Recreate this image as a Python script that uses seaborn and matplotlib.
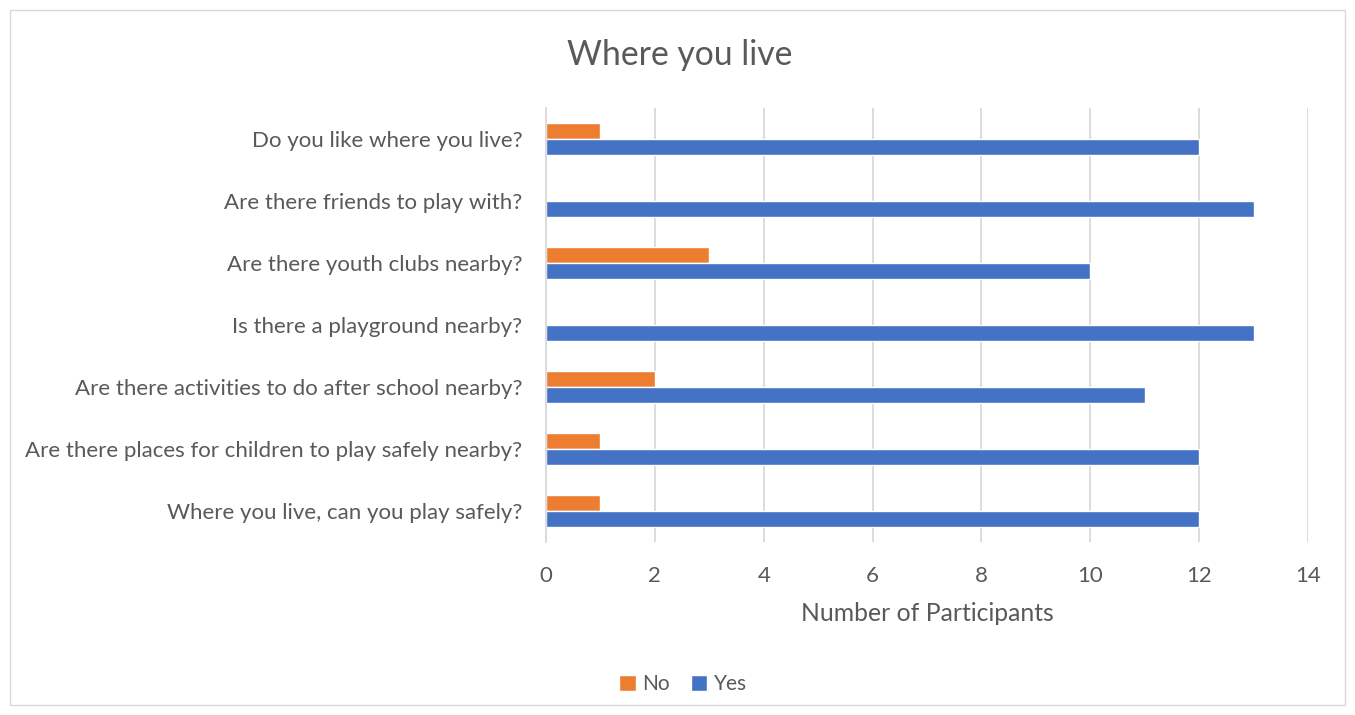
import matplotlib
matplotlib.use("Agg")
import matplotlib.pyplot as plt
import seaborn as sns
import pandas as pd
from matplotlib.patches import Rectangle

questions = [
    "Do you like where you live?",
    "Are there friends to play with?",
    "Are there youth clubs nearby?",
    "Is there a playground nearby?",
    "Are there activities to do after school nearby?",
    "Are there places for children to play safely nearby?",
    "Where you live, can you play safely?",
]
no_values = [1, 0, 3, 0, 2, 1, 1]
yes_values = [12, 13, 10, 13, 11, 12, 12]
series = ["No", "Yes"]
colors = {"No": "#ED7D31", "Yes": "#4472C4"}
x_ticks = [0, 2, 4, 6, 8, 10, 12, 14]

df = pd.DataFrame({
    "Question": questions * 2,
    "Answer": ["No"] * len(questions) + ["Yes"] * len(questions),
    "Count": no_values + yes_values,
})

sns.set_theme(style="white")
plt.rcParams["font.family"] = ["Lato", "DejaVu Sans"]
grey = "#595959"

fig = plt.figure(figsize=(13.55, 7.15), dpi=100)
ax = fig.add_axes([546 / 1355, 1 - 542 / 715, (1308 - 546) / 1355, (542 - 108) / 715])

sns.barplot(data=df, y="Question", x="Count", hue="Answer", order=questions,
            hue_order=series, palette=colors, orient="h", width=0.52,
            saturation=1, ax=ax, legend=True)

ax.set_xlim(0, 14)
ax.set_xticks(x_ticks)
ax.xaxis.grid(True, color="#D9D9D9", linewidth=1.3)
ax.set_axisbelow(True)
for s in ["top", "right", "bottom"]:
    ax.spines[s].set_visible(False)
ax.spines["left"].set_color("#D9D9D9")
ax.spines["left"].set_linewidth(1.3)
ax.tick_params(axis="x", length=0, colors=grey, labelsize=16, pad=17)
ax.tick_params(axis="y", length=0, colors=grey, labelsize=16, pad=17)
ax.set_ylabel("")
ax.set_xlabel("Number of Participants", fontsize=17.8, color=grey, labelpad=12)

fig.text(680 / 1355, 1 - 55 / 715, "Where you live", ha="center", va="center",
         fontsize=24.3, color=grey)

leg = ax.legend(loc="center", ncol=2, frameon=False,
                fontsize=15, handlelength=0.8, handleheight=0.8,
                handletextpad=0.3, columnspacing=1.0)
leg.set_bbox_to_anchor((683 / 1355, 1 - 684 / 715), transform=fig.transFigure)
for t in leg.get_texts():
    t.set_color(grey)

fig.patches.append(Rectangle((10 / 1355, 1 - 705 / 715), 1335 / 1355, 695 / 715,
                             transform=fig.transFigure, fill=False,
                             edgecolor="#D9D9D9", linewidth=1))

fig.savefig("out.png", dpi=100, facecolor="white")
